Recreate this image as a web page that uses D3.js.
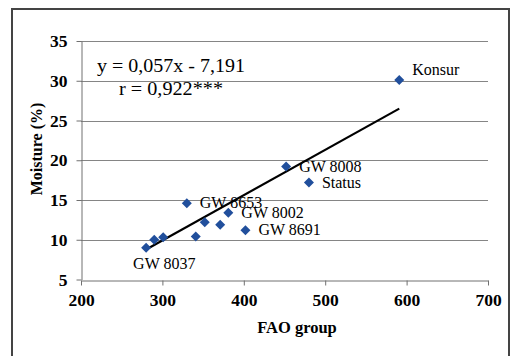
<!DOCTYPE html>
<html>
<head>
<meta charset="utf-8">
<script src="https://cdn.jsdelivr.net/npm/d3@7"></script>
<style>
  body { margin: 0; background: #fff; }
  svg { display: block; }
  text { font-family: "Liberation Serif", "Times New Roman", serif; }
</style>
</head>
<body>
<svg id="chart" width="511" height="356"></svg>
<script>
// data
var names    = ["GW 8037", "", "", "", "", "", "GW 8653", "GW 8002", "GW 8691", "GW 8008", "Status", "Konsur"];
var faoGroup = [280, 290, 301, 341, 352, 371, 330, 381, 402, 452, 480, 591];
var moisture = [9.0, 10.0, 10.3, 10.4, 12.2, 11.9, 14.6, 13.4, 11.2, 19.2, 17.2, 30.1];
var xTicks = [200, 300, 400, 500, 600, 700];
var yTicks = [5, 10, 15, 20, 25, 30, 35];
var slope = 0.057, intercept = -7.191;
var eqText = "y = 0,057x - 7,191";
var rText  = "r = 0,922***";

var svg = d3.select("#chart");

// outer frame
svg.append("rect")
  .attr("x", 12).attr("y", 9).attr("width", 497).attr("height", 360)
  .style("fill", "none").style("stroke", "#444").style("stroke-width", 2);

var x = d3.scaleLinear().domain([200, 700]).range([81, 488]);
var y = d3.scaleLinear().domain([5, 35]).range([279.5, 41]);

// gridlines
svg.append("g").selectAll("line")
  .data(yTicks.slice(1))
  .join("line")
  .attr("x1", x(200)).attr("x2", x(700))
  .attr("y1", function(d) { return Math.round(y(d)) + 0.5; })
  .attr("y2", function(d) { return Math.round(y(d)) + 0.5; })
  .style("stroke", "#858585").style("stroke-width", 1);

// axes
var gx = svg.append("g").attr("transform", "translate(0," + (Math.round(y(5)) + 0.5) + ")")
  .call(d3.axisBottom(x).tickValues(xTicks).tickSize(5).tickPadding(8).tickSizeOuter(0));
var gy = svg.append("g").attr("transform", "translate(" + (Math.round(x(200)) + 0.5) + ",0)")
  .call(d3.axisLeft(y).tickValues(yTicks).tickSize(5).tickPadding(9).tickSizeOuter(0));

[gx, gy].forEach(function(g) {
  g.select(".domain").style("stroke", "#707070");
  g.selectAll(".tick line").style("stroke", "#707070");
  g.selectAll(".tick text")
    .style("font-family", "'Liberation Serif', serif")
    .style("font-weight", "bold")
    .style("font-size", "17.5px")
    .style("fill", "#000");
});

// axis titles
svg.append("text")
  .attr("x", 297).attr("y", 333)
  .attr("text-anchor", "middle")
  .style("font-weight", "bold").style("font-size", "16.5px")
  .text("FAO group");

svg.append("text")
  .attr("transform", "translate(42,149) rotate(-90)")
  .attr("text-anchor", "middle")
  .style("font-weight", "bold").style("font-size", "16px")
  .text("Moisture (%)");

// regression line
var xr = d3.extent(faoGroup);
svg.append("line")
  .attr("x1", x(xr[0])).attr("y1", y(slope * xr[0] + intercept))
  .attr("x2", x(xr[1])).attr("y2", y(slope * xr[1] + intercept))
  .style("stroke", "#000").style("stroke-width", 2.2);

// points
var pts = faoGroup.map(function(d, i) { return { fao: d, m: moisture[i], name: names[i] }; });

svg.append("g").selectAll("path")
  .data(pts)
  .join("path")
  .attr("transform", function(d) { return "translate(" + x(d.fao) + "," + y(d.m) + ")"; })
  .attr("d", "M0,-5L5,0L0,5L-5,0Z")
  .style("fill", "#214f9c");

// point labels
svg.append("g").selectAll("text")
  .data(pts.filter(function(d) { return d.name; }))
  .join("text")
  .attr("x", function(d) { return x(d.fao) + (d.name == "GW 8037" ? -13 : 13); })
  .attr("y", function(d) {
    if (d.name == "GW 8037") return y(d.m) + 21;
    if (d.name == "Konsur") return y(d.m) - 5;
    return y(d.m) + 5;
  })
  .style("font-size", "16px")
  .text(function(d) { return d.name; });

// equation
svg.append("text")
  .attr("x", 97).attr("y", 72)
  .attr("textLength", 148).attr("lengthAdjust", "spacingAndGlyphs")
  .style("font-size", "18px")
  .text(eqText);
svg.append("text")
  .attr("x", 119).attr("y", 95)
  .attr("textLength", 104).attr("lengthAdjust", "spacingAndGlyphs")
  .style("font-size", "18px")
  .text(rText);
</script>
</body>
</html>
